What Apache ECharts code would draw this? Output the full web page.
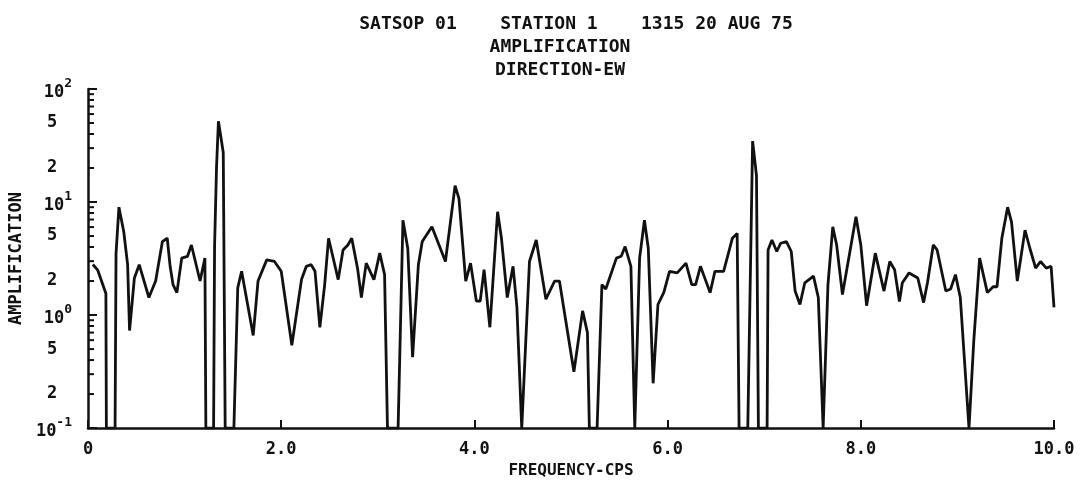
<!DOCTYPE html>
<html>
<head>
<meta charset="utf-8">
<script src="https://cdn.jsdelivr.net/npm/echarts@6/dist/echarts.min.js"></script>
<style>
html,body{margin:0;padding:0;background:#fff;}
#chart{width:1089px;height:484px;}
</style>
</head>
<body>
<div id="chart"></div>
<script>
// ---- data ----
const titleLines = ['SATSOP 01    STATION 1    1315 20 AUG 75', 'AMPLIFICATION', 'DIRECTION-EW'];
const xAxisName = 'FREQUENCY-CPS';
const yAxisName = 'AMPLIFICATION';
const xTicks = [0, 2, 4, 6, 8, 10];
const yDecades = [0.1, 1, 10, 100];
const yDecadeExp = ['-1', '0', '1', '2'];
const yMinorTicks = [0.2,0.3,0.4,0.5,0.6,0.7,0.8,0.9, 2,3,4,5,6,7,8,9, 20,30,40,50,60,70,80,90];
const yMinorLabels = [0.2, 0.5, 2, 5, 20, 50];
const freq = [0.05,0.10,0.185,0.19,0.28,0.29,0.32,0.37,0.41,0.43,0.48,0.53,0.63,0.70,0.77,0.82,0.85,0.88,0.92,0.97,1.03,1.07,1.16,1.21,1.22,1.30,1.31,1.33,1.35,1.40,1.42,1.51,1.55,1.59,1.71,1.76,1.85,1.93,2.00,2.11,2.21,2.26,2.31,2.35,2.40,2.45,2.49,2.59,2.64,2.69,2.73,2.79,2.83,2.88,2.96,3.02,3.07,3.10,3.21,3.26,3.31,3.36,3.42,3.46,3.56,3.70,3.80,3.84,3.91,3.96,4.02,4.06,4.10,4.16,4.24,4.28,4.34,4.40,4.44,4.49,4.57,4.64,4.74,4.83,4.88,5.03,5.12,5.17,5.19,5.27,5.32,5.36,5.47,5.52,5.56,5.62,5.66,5.71,5.76,5.80,5.85,5.90,5.96,6.02,6.10,6.19,6.25,6.29,6.34,6.44,6.49,6.58,6.67,6.72,6.74,6.83,6.88,6.92,6.94,7.03,7.04,7.08,7.13,7.17,7.23,7.28,7.32,7.37,7.42,7.51,7.56,7.61,7.66,7.71,7.75,7.81,7.95,8.00,8.06,8.15,8.24,8.30,8.35,8.40,8.43,8.50,8.59,8.65,8.69,8.75,8.79,8.88,8.93,8.98,9.03,9.12,9.17,9.23,9.31,9.37,9.41,9.46,9.52,9.56,9.62,9.70,9.75,9.81,9.86,9.92,9.97,10.0];
const amp = [2.8,2.5,1.55,0.1,0.1,3.5,9.0,5.46,2.79,0.73,2.13,2.79,1.43,2.0,4.47,4.78,2.70,1.86,1.58,3.19,3.31,4.17,2.0,3.2,0.1,0.1,4.0,20,51.8,27.4,0.1,0.1,1.74,2.44,0.66,2.0,3.08,2.98,2.44,0.54,2.06,2.70,2.79,2.44,0.78,1.86,4.78,2.06,3.77,4.17,4.78,2.60,1.43,2.88,2.06,3.53,2.28,0.1,0.1,6.9,3.9,0.425,2.79,4.47,6.04,2.98,13.97,10.7,2.0,2.88,1.33,1.33,2.52,0.78,8.2,4.78,1.43,2.70,1.17,0.1,2.98,4.61,1.38,2.0,2.0,0.315,1.09,0.7,0.1,0.1,1.86,1.70,3.19,3.31,4.04,2.70,0.1,3.19,6.9,3.9,0.249,1.24,1.58,2.44,2.36,2.88,1.86,1.86,2.70,1.58,2.44,2.44,4.78,5.28,0.1,0.1,34.6,17.1,0.1,0.1,3.77,4.61,3.65,4.32,4.47,3.65,1.63,1.24,1.93,2.21,1.43,0.1,1.86,6.04,4.17,1.52,7.4,4.17,1.21,3.53,1.63,2.98,2.52,1.32,1.93,2.36,2.13,1.29,1.93,4.17,3.77,1.63,1.70,2.28,1.43,0.1,0.6,3.19,1.58,1.78,1.78,4.78,9.0,6.68,2.0,5.64,3.9,2.60,2.98,2.60,2.70,1.17];

const FONT = 'DejaVu Sans Mono';
const chart = echarts.init(document.getElementById('chart'), null, {renderer: 'canvas'});
const seriesData = freq.map((f, i) => [f, amp[i]]);
const titleStyle = {fontFamily: FONT, fontWeight: 'bold', fontSize: 18, color: '#111'};

const option = {
  animation: false,
  backgroundColor: '#fff',
  title: [
    {text: titleLines[0], left: 571, top: 10, textAlign: 'center', textStyle: titleStyle},
    {text: titleLines[1], left: 555, top: 33, textAlign: 'center', textStyle: titleStyle},
    {text: titleLines[2], left: 555, top: 56, textAlign: 'center', textStyle: titleStyle}
  ],
  grid: {left: 82, right: 35, top: 89, bottom: 52, containLabel: false},
  xAxis: {
    type: 'value', min: 0, max: 10, interval: 2,
    name: xAxisName, nameLocation: 'middle', nameGap: 34,
    nameTextStyle: {fontFamily: FONT, fontWeight: 'bold', fontSize: 16, color: '#111'},
    axisLine: {lineStyle: {color: '#111', width: 2.5}},
    axisTick: {inside: true, length: 8, lineStyle: {color: '#111', width: 2}},
    axisLabel: {fontFamily: FONT, fontWeight: 'bold', fontSize: 17, color: '#111', margin: 13,
      formatter: v => v === 0 ? '0' : v.toFixed(1)},
    splitLine: {show: false}
  },
  yAxis: {
    type: 'log', logBase: 10, min: 0.1, max: 100,
    name: yAxisName, nameLocation: 'middle', nameGap: 56, nameRotate: 90,
    nameTextStyle: {fontFamily: FONT, fontWeight: 'bold', fontSize: 17, color: '#111'},
    axisLine: {show: true, lineStyle: {color: '#111', width: 2.5}},
    axisTick: {inside: true, length: 9, lineStyle: {color: '#111', width: 2}},
    axisLabel: {
      margin: 16,
      formatter: v => {
        const i = yDecades.findIndex(d => Math.abs(d - v) < v * 1e-6);
        return i < 0 ? '' : '{b|10}{s|' + yDecadeExp[i] + '}';
      },
      rich: {
        b: {fontFamily: FONT, fontWeight: 'bold', fontSize: 17, color: '#111', verticalAlign: 'bottom', lineHeight: 24},
        s: {fontFamily: FONT, fontWeight: 'bold', fontSize: 13, color: '#111', verticalAlign: 'top', lineHeight: 24}
      }
    },
    splitLine: {show: false}
  },
  series: [
    {
      type: 'custom',
      data: yMinorTicks.map(v => [0, v]),
      encode: {x: 0, y: 1},
      clip: false,
      silent: true,
      renderItem: (params, api) => {
        const v = api.value(1);
        const p = api.coord([0, v]);
        const children = [{type: 'line', shape: {x1: p[0], y1: p[1], x2: p[0] + 6, y2: p[1]}, style: {stroke: '#111', lineWidth: 2}}];
        if (yMinorLabels.some(m => Math.abs(m - v) < v * 1e-6)) {
          const m = Math.round(v / Math.pow(10, Math.floor(Math.log10(v) + 1e-9)));
          children.push({type: 'text', x: p[0] - 36, y: p[1], style: {text: String(m), fontFamily: FONT, fontWeight: 'bold', fontSize: 17, fill: '#111', align: 'center', verticalAlign: 'middle'}});
        }
        return {type: 'group', children};
      }
    },
    {
      type: 'line',
      data: seriesData,
      symbol: 'none',
      lineStyle: {color: '#111', width: 2.8},
      clip: true
    }
  ]
};
chart.setOption(option);
</script>
</body>
</html>
